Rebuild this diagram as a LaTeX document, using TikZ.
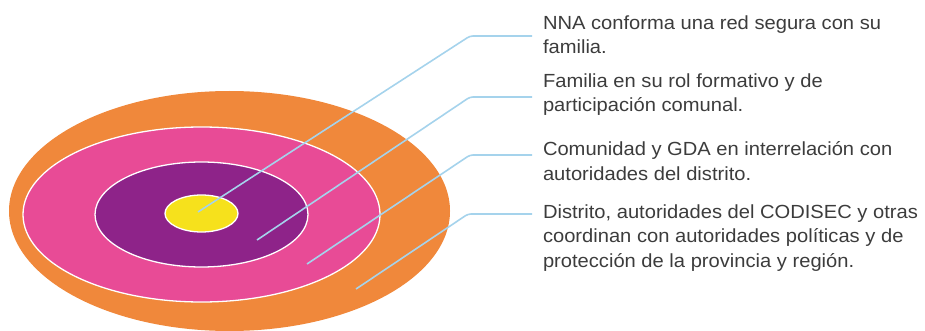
\documentclass[tikz,border=0pt]{standalone}
\usepackage{fontspec}
\setmainfont[FakeStretch=1.06]{Liberation Sans}
\usepackage{tikz}
\usetikzlibrary{shapes.geometric}

\definecolor{ringorange}{HTML}{F0883B}
\definecolor{ringpink}{HTML}{E84B96}
\definecolor{ringpurple}{HTML}{8E2389}
\definecolor{ringyellow}{HTML}{F6E11C}
\definecolor{leaderblue}{HTML}{A5D3EC}
\definecolor{labelgray}{HTML}{3C3C3C}

\begin{document}
\begin{tikzpicture}
[every node/.style={inner sep=0pt, outer sep=0pt},
 ring/.style={ellipse, line width=1.3pt, draw=white},
 label/.style={anchor=base west, align=left, text=labelgray, font=\fontsize{19pt}{24.5pt}\selectfont},
 leader/.style={line width=1.6pt, color=leaderblue, rounded corners=3pt}]
\useasboundingbox (0pt, 0pt) rectangle (925pt, -331pt);
\node (4) [ellipse, minimum width=441pt, minimum height=240pt, fill=ringorange] at (229.5pt, -211pt) {};
\node (3) [ring, minimum width=357pt, minimum height=175pt, fill=ringpink] at (201.5pt, -214.5pt) {};
\node (2) [ring, minimum width=213pt, minimum height=105pt, fill=ringpurple] at (201.5pt, -214.5pt) {};
\node (1) [ring, minimum width=73pt, minimum height=37pt, fill=ringyellow] at (201.5pt, -213.5pt) {};
% base anchor sits on the last line
\node (a) [label] at (543pt, -54pt) {NNA conforma una red segura con su\\familia.};
\node (b) [label] at (543pt, -112pt) {Familia en su rol formativo y de\\participación comunal.};
\node (c) [label] at (543pt, -180pt) {Comunidad y GDA en interrelación con\\autoridades del distrito.};
\node (d) [label] at (543pt, -267pt) {Distrito, autoridades del CODISEC y otras\\coordinan con autoridades políticas y de\\protección de la provincia y región.};
\coordinate (p1) at (198pt, -212pt);
\coordinate (p2) at (257pt, -240pt);
\coordinate (p3) at (307pt, -264pt);
\coordinate (p4) at (356pt, -289pt);
\coordinate (q1) at (470pt, -36pt);
\coordinate (q2) at (470pt, -97pt);
\coordinate (q3) at (470pt, -155pt);
\coordinate (q4) at (468pt, -214pt);
\draw [leader] (p1) -- (q1) -- ([xshift=-11pt]a.west |- q1);
\draw [leader] (p2) -- (q2) -- ([xshift=-11pt]b.west |- q2);
\draw [leader] (p3) -- (q3) -- ([xshift=-11pt]c.west |- q3);
\draw [leader] (p4) -- (q4) -- ([xshift=-11pt]d.west |- q4);
\end{tikzpicture}
\end{document}
